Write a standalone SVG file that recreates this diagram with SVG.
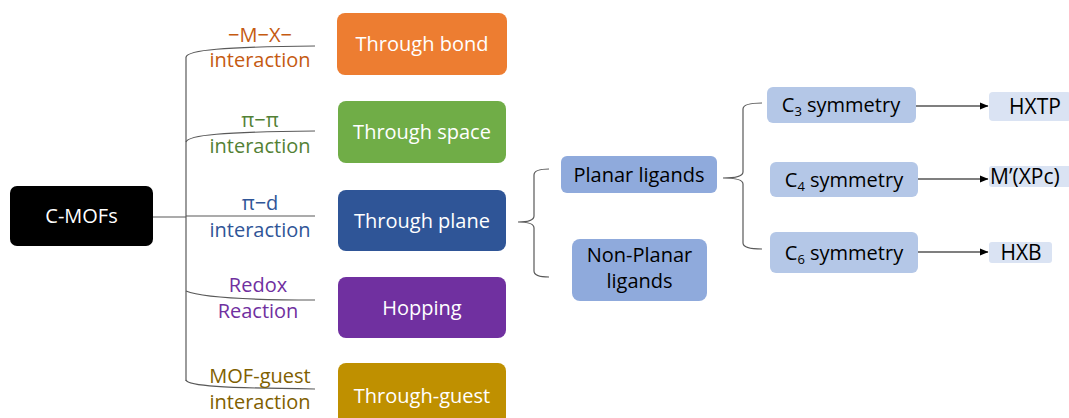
<svg xmlns="http://www.w3.org/2000/svg" width="1069" height="418" viewBox="0 0 1069 418">
<style>
text{font-family:"Open Sans","Noto Sans","Liberation Sans",sans-serif;font-size:20px;text-anchor:middle}
.w{fill:#ffffff}
.k{fill:#000000}
.s{font-size:21px}
.st{text-anchor:start}
.sub{font-size:13px}
.ln{fill:none;stroke:#595959;stroke-width:1.2}
.ar{fill:none;stroke:#000000;stroke-width:1.1}
</style>
<defs>
<marker id="ah" markerWidth="9" markerHeight="9" refX="8" refY="4.5" orient="auto" markerUnits="userSpaceOnUse">
<path d="M0,1 L8.5,4.5 L0,8 Z" fill="#000"/>
</marker>
</defs>
<rect width="1069" height="418" fill="#ffffff"/>

<g id="connectors">
<path class="ln" d="M153,217 L186,217"/>
<path class="ln" d="M186,57 L186,381"/>
<path class="ln" d="M186,57 C188,50 222,47 315,46"/>
<path class="ln" d="M186,142 C188,135 222,132 315,131"/>
<path class="ln" d="M186,216 L315,216"/>
<path class="ln" d="M186,291 C200,297 240,300 315,300"/>
<path class="ln" d="M186,380 C188,386 222,388 315,389"/>
<path class="ln" d="M549,169 Q534,169 534,175 L534,216 Q534,222 518,222 Q534,222 534,228 L534,271 Q534,277 549,277"/>
<path class="ln" d="M762,103 Q743,103 743,109 L743,172 Q743,178 723,178 Q743,178 743,184 L743,243 Q743,249 762,249"/>
<path class="ar" d="M916,106 L988,106" marker-end="url(#ah)"/>
<path class="ar" d="M918,179 L988,179" marker-end="url(#ah)"/>
<path class="ar" d="M918,252 L988,252" marker-end="url(#ah)"/>
</g>

<g id="labels">
<text x="260" y="42" fill="#C55A11">−M−X−</text>
<text x="260" y="67" fill="#C55A11">interaction</text>
<text x="260" y="127" fill="#538135">π−π</text>
<text x="260" y="153" fill="#538135">interaction</text>
<text x="260" y="210" fill="#2F5597">π−d</text>
<text x="260" y="237" fill="#2F5597">interaction</text>
<text x="258" y="292" fill="#7030A0">Redox</text>
<text x="258" y="318" fill="#7030A0">Reaction</text>
<text x="260" y="383" fill="#7F6000">MOF-guest</text>
<text x="260" y="409" fill="#7F6000">interaction</text>
</g>

<g id="cmofs">
<rect x="10" y="186" width="143" height="60" rx="7" fill="#000000"/>
<text x="81.5" y="223" class="w">C-MOFs</text>
</g>

<g id="through-bond">
<rect x="337" y="13" width="170" height="62" rx="8" fill="#ED7D31"/>
<text x="422" y="51" class="w">Through bond</text>
</g>
<g id="through-space">
<rect x="338" y="101" width="168" height="62" rx="8" fill="#70AD47"/>
<text x="422" y="139" class="w">Through space</text>
</g>
<g id="through-plane">
<rect x="338" y="190" width="168" height="61" rx="8" fill="#2F5597"/>
<text x="422" y="228" class="w">Through plane</text>
</g>
<g id="hopping">
<rect x="338" y="277" width="168" height="61" rx="8" fill="#7030A0"/>
<text x="422" y="315" class="w">Hopping</text>
</g>
<g id="through-guest">
<rect x="338" y="363" width="168" height="62" rx="8" fill="#BF9000"/>
<text x="422" y="403" class="w">Through-guest</text>
</g>

<g id="planar">
<rect x="561" y="156" width="156" height="37" rx="6" fill="#8FAADC"/>
<text x="639" y="182" class="k">Planar ligands</text>
</g>
<g id="nonplanar">
<rect x="572" y="239" width="135" height="62" rx="8" fill="#8FAADC"/>
<text x="639.5" y="262" class="k">Non-Planar</text>
<text x="639.5" y="288" class="k">ligands</text>
</g>

<g id="c3">
<rect x="767" y="87" width="149" height="36" rx="6" fill="#B4C7E7"/>
<text x="841" y="112" class="k">C<tspan class="sub" dy="4">3</tspan><tspan dy="-4"> symmetry</tspan></text>
</g>
<g id="c4">
<rect x="770" y="162" width="148" height="35" rx="6" fill="#B4C7E7"/>
<text x="844" y="187" class="k">C<tspan class="sub" dy="4">4</tspan><tspan dy="-4"> symmetry</tspan></text>
</g>
<g id="c6">
<rect x="770" y="232" width="148" height="41" rx="6" fill="#B4C7E7"/>
<text x="844" y="260" class="k">C<tspan class="sub" dy="4">6</tspan><tspan dy="-4"> symmetry</tspan></text>
</g>

<g id="hxtp">
<rect x="989" y="92" width="82" height="29" rx="4" fill="#DAE3F3"/>
<text x="1035" y="114" class="k s">HXTP</text>
</g>
<g id="mxpc">
<rect x="989" y="166" width="82" height="21" rx="3" fill="#DAE3F3"/>
<text x="990" y="184" class="k s st">M’(XPc)</text>
</g>
<g id="hxb">
<rect x="989" y="242" width="63" height="21" rx="3" fill="#DAE3F3"/>
<text x="1021" y="260" class="k s">HXB</text>
</g>
</svg>
